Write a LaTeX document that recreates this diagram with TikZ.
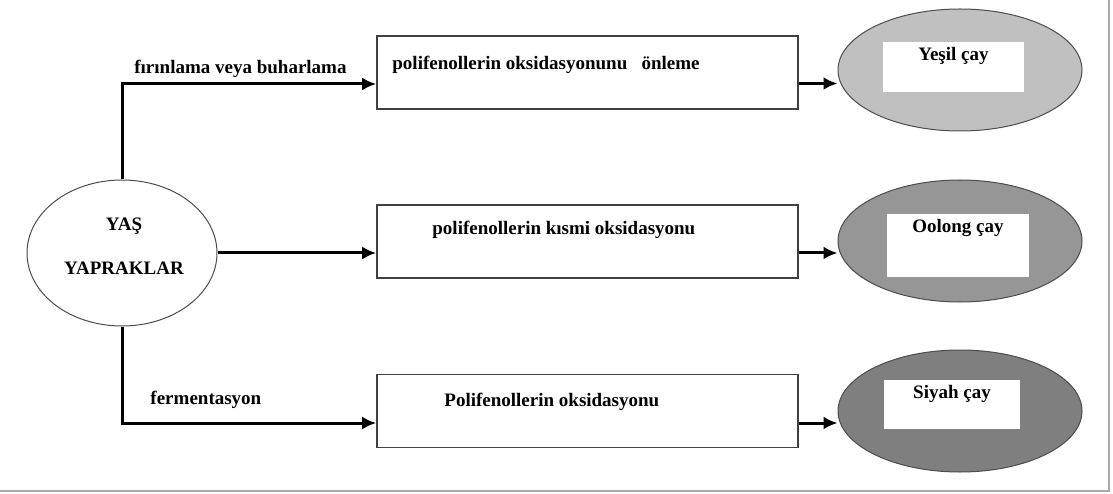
\documentclass[tikz,border=0pt]{standalone}
\usepackage{fontspec}
\setmainfont{Liberation Serif}
\usepackage{tikz}
\usetikzlibrary{arrows.meta, shapes.geometric, positioning}
\definecolor{teagray1}{RGB}{192, 192, 192}
\definecolor{teagray2}{RGB}{150, 150, 150}
\definecolor{teagray3}{RGB}{127, 127, 127}
\definecolor{framegray}{RGB}{170, 170, 170}
\tikzset{
  leaf/.style = {ellipse, draw=black!70, line width=1pt, fill=white,
                 minimum width=190pt, minimum height=146pt, inner sep=0pt},
  procbox/.style = {rectangle, draw=black!75, line width=1.6pt,
                    minimum width=421pt, minimum height=73pt, inner sep=0pt},
  tea/.style = {ellipse, draw=black!70, line width=1pt,
                minimum width=244pt, minimum height=122pt, inner sep=0pt},
  tag/.style = {rectangle, fill=white, minimum width=141pt, inner xsep=0pt,
                inner ysep=4pt, text height=14pt},
  flow/.style = {line width=3pt, -{Latex[length=14pt, width=13pt]}},
  txt/.style = {font=\fontsize{19}{22}\selectfont\bfseries, inner sep=0pt}
}

\begin{document}
\begin{tikzpicture}[x=1pt, y=-1pt]
\useasboundingbox (0,0) rectangle (1113,494);
\draw[framegray, line width=1.2pt] (1109,0) -- (1109,491) -- (0,491);

% fresh leaves
\node[leaf] (wet) at (122,253) {};
\node[txt, align=center] (wettext) at (124,246.5) {YAŞ\\[22pt]YAPRAKLAR};

% processing steps
\node[procbox] (b1) at (587.5,72.5) {};
\node[procbox] (b2) at (587.5,241.5) {};
\node[procbox] (b3) at (587.5,411) {};
\node[txt, anchor=west] (t1) at ([xshift=16pt, yshift=-30pt]b1.north west)
     {polifenollerin oksidasyonunu \ \ önleme};
\node[txt, anchor=west] (t2) at ([xshift=56pt, yshift=-26pt]b2.north west)
     {polifenollerin kısmi oksidasyonu};
\node[txt, anchor=west] (t3) at ([xshift=68pt, yshift=-28pt]b3.north west)
     {Polifenollerin oksidasyonu};

% teas
\node[tea, fill=teagray1] (g1) at (960,70) {};
\node[tea, fill=teagray2] (g2) at (960,241) {};
\node[tea, fill=teagray3] (g3) at (960,411) {};
\node[tag, txt, inner ysep=4pt, text depth=28pt, anchor=north] (y1) at (953.5,42) {Yeşil çay};
\node[tag, txt, inner ysep=4pt, text depth=41pt, minimum width=142pt, anchor=north] (y2) at (958,214) {Oolong çay};
\node[tag, txt, inner ysep=4pt, text depth=27pt, minimum width=136pt, anchor=north] (y3) at (952,380) {Siyah çay};

% connectors
\coordinate (in1) at ([yshift=-11.5pt]b1.west);
\coordinate (in3) at ([yshift=-12pt]b3.west);
\draw[flow] (wet.north) |- (in1)
   node[txt, pos=0.733, above=5pt] (l1) {fırınlama veya buharlama};
\draw[flow] (wet.east) -- (wet.east -| b2.west);
\draw[flow] (wet.south) |- (in3)
   node[txt, pos=0.665, above=13pt] (l3) {fermentasyon};

\draw[flow] ([yshift=-11pt]b1.east) -- ([yshift=-11pt]b1.east -| g1.west);
\draw[flow] ([yshift=-11.5pt]b2.east) -- ([yshift=-11.5pt]b2.east -| g2.west);
\draw[flow] ([yshift=-12pt]b3.east) -- ([yshift=-12pt]b3.east -| g3.west);

\end{tikzpicture}
\end{document}
